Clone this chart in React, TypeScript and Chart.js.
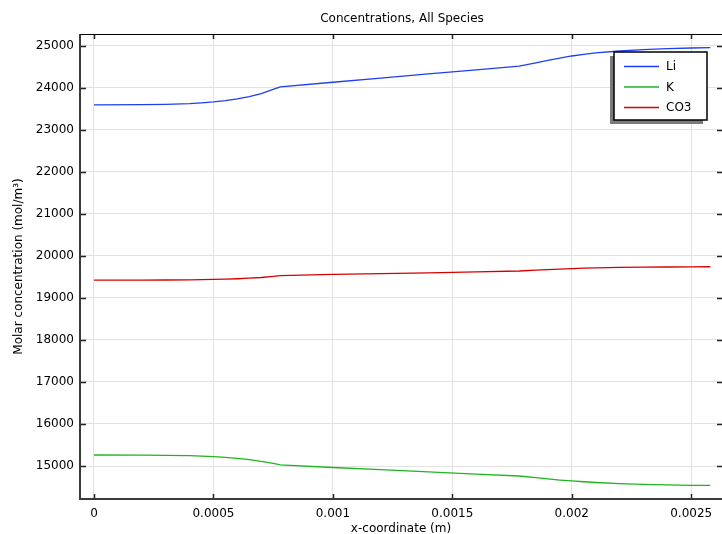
import { useEffect, useRef } from 'react';
import { Chart, registerables } from 'chart.js';

Chart.register(...registerables);

// x-coordinate samples (m)
const xCoord = [
  0, 0.0002, 0.0003, 0.0004, 0.00045, 0.0005, 0.00055, 0.0006, 0.00065, 0.0007, 0.00075, 0.00078,
  0.001, 0.0012, 0.0014, 0.0016, 0.00178, 0.00185, 0.0019, 0.00195, 0.002, 0.00205, 0.0021,
  0.0022, 0.0023, 0.0024, 0.0025, 0.00258,
];

// Molar concentrations (mol/m^3) per species
const liConc = [
  23590, 23596, 23604, 23622, 23640, 23662, 23692, 23732, 23788, 23862, 23958, 24022,
  24130, 24228, 24327, 24426, 24515, 24592, 24650, 24706, 24755, 24795, 24828,
  24874, 24906, 24930, 24945, 24955,
];
const kConc = [
  15262, 15259, 15254, 15245, 15236, 15223, 15206, 15183, 15151, 15111, 15061, 15025,
  14965, 14912, 14860, 14808, 14762, 14722, 14693, 14666, 14644, 14625, 14608,
  14581, 14562, 14549, 14541, 14538,
];
const co3Conc = [
  19421, 19423, 19425, 19430, 19434, 19439, 19446, 19455, 19468, 19485, 19510, 19530,
  19557, 19578, 19597, 19617, 19640, 19659, 19672, 19686, 19697, 19706, 19714,
  19725, 19731, 19735, 19738, 19740,
];

const speciesNames = ['Li', 'K', 'CO3'];
const speciesColors = ['#1f3ff2', '#1fb51f', '#d60000'];

const xTickValues = [0, 0.0005, 0.001, 0.0015, 0.002, 0.0025];
const xTickLabels = ['0', '0.0005', '0.001', '0.0015', '0.002', '0.0025'];
const yTickValues = [15000, 16000, 17000, 18000, 19000, 20000, 21000, 22000, 23000, 24000, 25000];
const yTickLabels = ['15000', '16000', '17000', '18000', '19000', '20000', '21000', '22000', '23000', '24000', '25000'];

const chartTitle = 'Concentrations, All Species';
const xAxisTitle = 'x-coordinate (m)';
const yAxisTitle = 'Molar concentration (mol/m³)';

const FONT = '"DejaVu Sans", sans-serif';

// Inward ticks, the axis frame, the title and the boxed legend with its shadow.
const framePlugin = {
  id: 'plotFrame',
  afterDatasetsDraw(chart: any) {
    const { ctx, chartArea: a, scales } = chart;
    ctx.save();
    ctx.strokeStyle = '#222';
    ctx.lineWidth = 1.5;
    ctx.beginPath();
    for (const v of xTickValues) {
      const px = Math.round(scales.x.getPixelForValue(v)) + 0.5;
      ctx.moveTo(px, a.bottom);
      ctx.lineTo(px, a.bottom - 5);
      ctx.moveTo(px, a.top);
      ctx.lineTo(px, a.top + 5);
    }
    for (const v of yTickValues) {
      const py = Math.round(scales.y.getPixelForValue(v)) + 0.5;
      ctx.moveTo(a.left, py);
      ctx.lineTo(a.left + 6, py);
      ctx.moveTo(a.right, py);
      ctx.lineTo(a.right - 5, py);
    }
    ctx.stroke();

    // left and bottom axis lines
    ctx.strokeStyle = '#3a3a3a';
    ctx.lineWidth = 2;
    ctx.beginPath();
    ctx.moveTo(a.left, a.top);
    ctx.lineTo(a.left, a.bottom);
    ctx.lineTo(a.right, a.bottom);
    ctx.stroke();
    // top border
    ctx.strokeStyle = '#000';
    ctx.lineWidth = 1;
    ctx.beginPath();
    ctx.moveTo(a.left, a.top + 0.5);
    ctx.lineTo(a.right, a.top + 0.5);
    ctx.stroke();
    ctx.restore();
  },
  afterDraw(chart: any) {
    const { ctx, chartArea: a } = chart;
    ctx.save();
    ctx.fillStyle = '#000';
    ctx.font = `12px ${FONT}`;
    ctx.textAlign = 'center';
    ctx.textBaseline = 'middle';
    ctx.fillText(chartTitle, (a.left + a.right) / 2 + 1, 19);

    // legend
    const bw = 93;
    const bh = 68;
    const bx = a.right - 15 - bw;
    const by = a.top + 18;
    ctx.fillStyle = '#7a7a7a';
    ctx.fillRect(bx - 4, by + 4, bw, bh);
    ctx.fillStyle = '#fff';
    ctx.fillRect(bx, by, bw, bh);
    ctx.strokeStyle = '#000';
    ctx.lineWidth = 1.5;
    ctx.strokeRect(bx, by, bw, bh);

    ctx.textAlign = 'left';
    chart.data.datasets.forEach((ds: any, i: number) => {
      const cy = by + 14.5 + i * 20.5;
      ctx.strokeStyle = ds.borderColor;
      ctx.lineWidth = 1.3;
      ctx.beginPath();
      ctx.moveTo(bx + 10, cy);
      ctx.lineTo(bx + 45, cy);
      ctx.stroke();
      ctx.fillStyle = '#000';
      ctx.fillText(ds.label, bx + 52, cy + 0.5);
    });
    ctx.restore();
  },
};

export default function App() {
  const canvasRef = useRef<HTMLCanvasElement | null>(null);

  useEffect(() => {
    const canvas = canvasRef.current;
    if (!canvas) return;
    Chart.defaults.font.family = FONT;
    Chart.defaults.color = '#000';

    const series = [liConc, kConc, co3Conc];
    const chart = new Chart(canvas, {
      type: 'line',
      data: {
        datasets: series.map((vals, i) => ({
          label: speciesNames[i],
          data: xCoord.map((x, j) => ({ x, y: vals[j] })),
          borderColor: speciesColors[i],
          borderWidth: 1.3,
          pointRadius: 0,
          tension: 0,
          fill: false,
        })),
      },
      options: {
        responsive: false,
        animation: false,
        layout: { padding: { top: 34, left: 0, right: 0, bottom: 0 } },
        plugins: {
          legend: { display: false },
          title: { display: false },
          tooltip: { enabled: false },
        },
        scales: {
          x: {
            type: 'linear',
            min: -0.0000586,
            max: 0.002629,
            afterBuildTicks: (s: any) => {
              s.ticks = xTickValues.map((v) => ({ value: v }));
            },
            afterFit: (s: any) => {
              s.height = 35;
            },
            ticks: {
              callback: (v: any) => xTickLabels[xTickValues.indexOf(v)] ?? '',
              padding: 8,
              maxRotation: 0,
              font: { size: 12 },
              color: '#000',
            },
            grid: { color: '#e2e2e2', lineWidth: 1, drawTicks: false },
            border: { display: false },
            title: {
              display: true,
              text: xAxisTitle,
              font: { size: 12 },
              color: '#000',
              padding: { top: 0, bottom: -2 },
            },
          },
          y: {
            type: 'linear',
            min: 14215,
            max: 25278,
            afterBuildTicks: (s: any) => {
              s.ticks = yTickValues.map((v) => ({ value: v }));
            },
            afterFit: (s: any) => {
              s.width = 80;
            },
            ticks: {
              callback: (v: any) => yTickLabels[yTickValues.indexOf(v)] ?? '',
              padding: 6,
              font: { size: 12 },
              color: '#000',
            },
            grid: { color: '#e2e2e2', lineWidth: 1, drawTicks: false },
            border: { display: false },
            title: {
              display: true,
              text: yAxisTitle,
              font: { size: 12 },
              color: '#000',
              padding: { top: 12, bottom: 0 },
            },
          },
        },
      },
      plugins: [framePlugin],
    });

    return () => chart.destroy();
  }, []);

  return (
    <div style={{ position: 'absolute', left: 0, top: 0, width: 722, height: 534, background: '#fff' }}>
      <canvas ref={canvasRef} width={722} height={534} />
    </div>
  );
}
